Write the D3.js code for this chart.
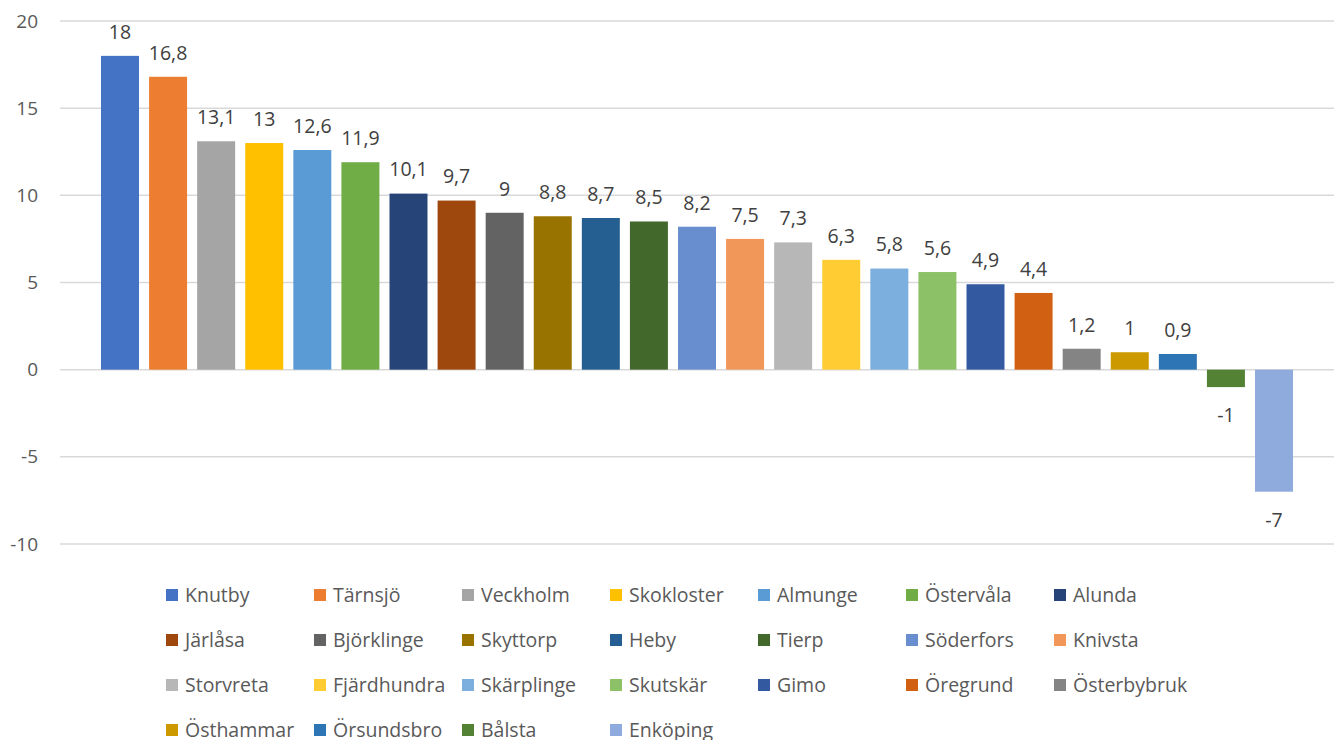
<!DOCTYPE html>
<html>
<head>
<meta charset="utf-8">
<script src="https://cdn.jsdelivr.net/npm/d3@7"></script>
<style>
  body { margin: 0; background: #fff; }
  svg { font-family: "Open Sans", sans-serif; }
</style>
</head>
<body>
<svg id="chart" width="1334" height="740"></svg>
<script>
var places = ["Knutby", "Tärnsjö", "Veckholm", "Skokloster", "Almunge", "Östervåla", "Alunda",
  "Järlåsa", "Björklinge", "Skyttorp", "Heby", "Tierp", "Söderfors", "Knivsta",
  "Storvreta", "Fjärdhundra", "Skärplinge", "Skutskär", "Gimo", "Öregrund", "Österbybruk",
  "Östhammar", "Örsundsbro", "Bålsta", "Enköping"];
var values = [18, 16.8, 13.1, 13, 12.6, 11.9, 10.1, 9.7, 9, 8.8, 8.7, 8.5, 8.2, 7.5,
  7.3, 6.3, 5.8, 5.6, 4.9, 4.4, 1.2, 1, 0.9, -1, -7];
var colors = ["#4472C4", "#ED7D31", "#A5A5A5", "#FFC000", "#5B9BD5", "#70AD47", "#264478",
  "#9E480E", "#636363", "#997300", "#255E91", "#43682B", "#698ED0", "#F1975A",
  "#B7B7B7", "#FFCD33", "#7CAFDD", "#8CC168", "#335AA1", "#D26012", "#848484",
  "#CC9A00", "#2E75B6", "#548235", "#8FAADC"];
var yTicks = [-10, -5, 0, 5, 10, 15, 20];

var svg = d3.select("#chart");
var fmt = function (v) { return String(v).replace(".", ","); };

var y = d3.scaleLinear().domain([-10, 20]).range([544, 21]);
var x = d3.scaleBand().domain(places).range([101, 1293]).paddingInner(0.21).paddingOuter(0);

// gridlines
svg.append("g").selectAll("line")
  .data(yTicks).enter().append("line")
  .attr("x1", 60).attr("x2", 1334)
  .attr("y1", function (d) { return y(d); })
  .attr("y2", function (d) { return y(d); })
  .attr("stroke", "#D9D9D9").attr("stroke-width", 1.5);

// y axis labels
svg.append("g").selectAll("text")
  .data(yTicks).enter().append("text")
  .attr("x", 38).attr("y", function (d) { return y(d); })
  .attr("dy", "0.35em").attr("text-anchor", "end")
  .attr("fill", "#595959").style("font-size", "19px")
  .text(function (d) { return d; });

// bars
svg.append("g").selectAll("rect")
  .data(places).enter().append("rect")
  .attr("x", function (d) { return x(d); })
  .attr("width", x.bandwidth())
  .attr("y", function (d, i) { return y(Math.max(0, values[i])); })
  .attr("height", function (d, i) { return Math.abs(y(values[i]) - y(0)); })
  .attr("fill", function (d, i) { return colors[i]; });

// value labels
svg.append("g").selectAll("text")
  .data(places).enter().append("text")
  .attr("x", function (d) { return x(d) + x.bandwidth() / 2; })
  .attr("y", function (d, i) {
    return values[i] >= 0 ? y(values[i]) - 24 : y(values[i]) + 28;
  })
  .attr("dy", "0.35em").attr("text-anchor", "middle")
  .attr("fill", "#404040").style("font-size", "19.5px")
  .text(function (d, i) { return fmt(values[i]); });

// legend, 7 per row
var legend = svg.append("g").selectAll("g")
  .data(places).enter().append("g")
  .attr("transform", function (d, i) {
    return "translate(" + (166 + (i % 7) * 148) + "," + (595 + Math.floor(i / 7) * 45) + ")";
  });
legend.append("rect")
  .attr("x", 0).attr("y", -6).attr("width", 12).attr("height", 12)
  .attr("fill", function (d, i) { return colors[i]; });
legend.append("text")
  .attr("x", 19).attr("y", 0).attr("dy", "0.35em")
  .attr("fill", "#595959").style("font-size", "19.5px")
  .text(function (d) { return d; });
</script>
</body>
</html>
